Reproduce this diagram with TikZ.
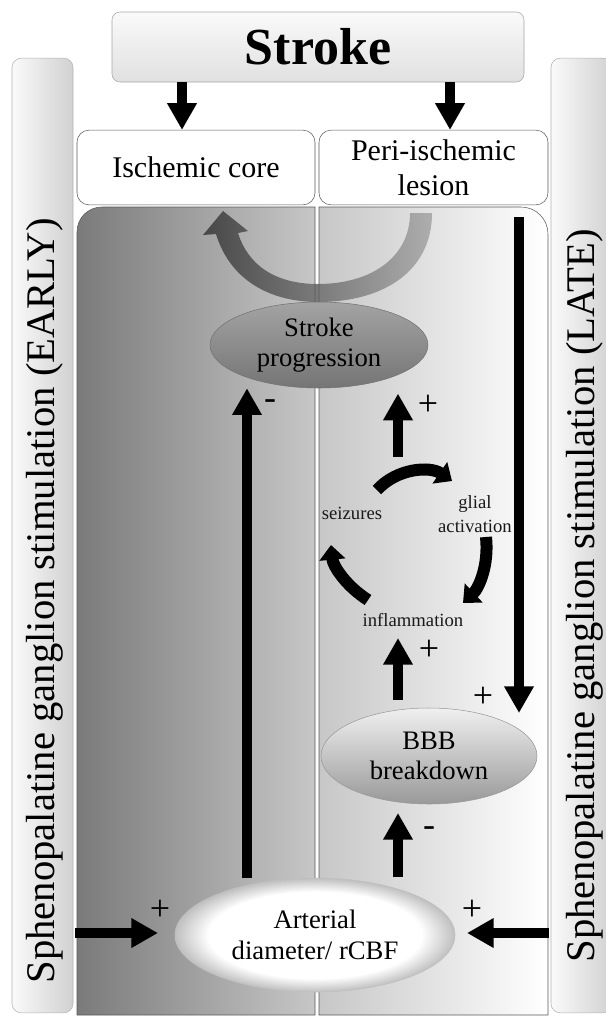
\documentclass[tikz,border=0pt]{standalone}
\usepackage{fontspec}
\setmainfont{Liberation Serif}
\usepackage{tikz}
\usetikzlibrary{shapes.geometric, positioning, arrows.meta}

\pgfdeclareradialshading{whiteoval}{\pgfpoint{0bp}{0bp}}{%
    color(0bp)=(white); color(19bp)=(white); color(25bp)=(black!25); color(50bp)=(black!25)}

\begin{document}
\begin{tikzpicture}[
    x=0.75pt, y=-0.75pt,
    column/.style={
        rectangle,
        rounded corners=7pt,
        draw=black!30,
        left color=black!2,
        right color=black!18,
        minimum width=45.75pt,
        minimum height=716pt,
        inner sep=0pt
    },
    titlebox/.style={
        rectangle,
        rounded corners=6pt,
        draw=black!35,
        top color=black!2,
        bottom color=black!12,
        minimum width=309pt,
        minimum height=52.5pt,
        font=\fontsize{39}{44}\selectfont\bfseries
    },
    zonebox/.style={
        rectangle,
        rounded corners=9pt,
        draw=black!65,
        fill=white,
        minimum height=56pt,
        align=center,
        font=\fontsize{22.5}{26}\selectfont
    },
    oval/.style={
        ellipse,
        inner sep=0pt,
        align=center,
        font=\fontsize{20}{23}\selectfont
    },
    cyclelabel/.style={align=center, text=black!90, font=\fontsize{14}{18}\selectfont},
    sign/.style={inner sep=0pt, font=\fontsize{27}{27}\selectfont},
    sidetext/.style={rotate=90, font=\fontsize{30.5}{30}\selectfont},
    blockarrow/.style={line width=8pt, -{Triangle[length=20pt, width=21pt]}},
    looparrow/.style={line width=9pt, -{Triangle[length=11pt, width=19pt]}}
]
\clip (0,0) rectangle (606,1018);

% side columns
\node (colL) [column] at (42.5,535.5) {};
\node (colR) [column] at (581.5,535.5) {};
\node (early) [sidetext] at (45,601) {Sphenopalatine ganglion stimulation (EARLY)};
\node (late) [sidetext] at (585,596) {Sphenopalatine ganglion stimulation (LATE)};

% top
\node (stroke) [titlebox] at (318,47) {Stroke};
\node (core) [zonebox, minimum width=178.5pt] at (196,167.5) {Ischemic core};
\node (peri) [zonebox, minimum width=171.75pt] at (433.5,167.5) {Peri-ischemic\\lesion};

\coordinate (xl) at (182,0);
\coordinate (xr) at (450,0);
\draw[blockarrow] (stroke.south -| xl) -- (core.north -| xl);
\draw[blockarrow] (stroke.south -| xr) -- (peri.north -| xr);

% panels
\shade[left color=black!52, right color=black!22]
    (315,1015) -- (315,207) -- (102,207) .. controls (88,207) and (77,218) .. (77,232) -- (77,1015) -- cycle;
\shade[left color=black!22, right color=white]
    (319,1015) -- (319,207) -- (521,207) .. controls (536,207) and (548,219) .. (548,234) -- (548,1015) -- cycle;

% progression loop
\shade[left color=black!72, right color=black!32]
    (216,234) .. controls (230,280) and (270,302) .. (318,302)
    .. controls (385,302) and (432,270) .. (432,213)
    -- (410,213)
    .. controls (410,258) and (370,284) .. (318,284)
    .. controls (275,284) and (248,265) .. (238,233)
    -- (248,231) -- (223,211) -- (203,235) -- cycle;

\draw[black!65] (315,1015) -- (315,207) -- (102,207) .. controls (88,207) and (77,218) .. (77,232) -- (77,1015) -- cycle;
\draw[black!65] (319,1015) -- (319,207) -- (521,207) .. controls (536,207) and (548,219) .. (548,234) -- (548,1015) -- cycle;

% states
\node (prog) [oval, draw=black!55, top color=black!36, bottom color=black!54,
    minimum width=163.5pt, minimum height=64.5pt] at (319,345) {Stroke\\progression};
\node (bbb) [oval, draw=black!40, top color=black!6, bottom color=black!40,
    minimum width=162pt, minimum height=72pt] at (429,756) {BBB\\breakdown};
\node (art) [oval, draw=black!25, shading=whiteoval,
    minimum width=210pt, minimum height=85.5pt] at (315,935) {Arterial\\diameter/ rCBF};

% cycle
\node (seiz) [cyclelabel] at (352,513) {seizures};
\node (glial) [cyclelabel] at (475,514) {glial\\activation};
\node (infl) [cyclelabel] at (413,620) {inflammation};

\draw[looparrow] (377,490) .. controls (397,468) and (430,466) .. (452,481);
\draw[looparrow] (486,537) .. controls (489,565) and (479,588) .. (463,603);
\draw[looparrow] (368,600) .. controls (346,586) and (333,566) .. (331,545);

% connectors
\coordinate (xa) at (247,0);
\coordinate (cyctop) at (398,457);
\coordinate (bbbtop) at (398,700);
\coordinate (infltip) at (398,638);
\coordinate (artb) at (398,877);
\coordinate (bbbtip) at (398,813);
\coordinate (perib) at (519,217);
\coordinate (bbbin) at (519,713);
\coordinate (lin) at (75,933);
\coordinate (lintip) at (158,933);
\coordinate (rin) at (549,933);
\coordinate (rintip) at (467,933);

\draw[blockarrow] (art.north -| xa) -- (prog.south -| xa);
\draw[blockarrow] (cyctop) -- ([yshift=-4pt]cyctop |- prog.south);
\draw[blockarrow] (bbbtop) -- (infltip);
\draw[blockarrow] (artb) -- (bbbtip);
\draw[blockarrow] (perib) -- (bbbin);
\draw[blockarrow] (lin) -- (lintip);
\draw[blockarrow] (rin) -- (rintip);

% signs
\node [sign] at (270,405) {-};
\node [sign] at (428,405) {+};
\node [sign] at (429,650) {+};
\node [sign] at (483,697) {+};
\node [sign] at (429,832) {-};
\node [sign] at (160,910) {+};
\node [sign] at (472,910) {+};

\end{tikzpicture}
\end{document}
